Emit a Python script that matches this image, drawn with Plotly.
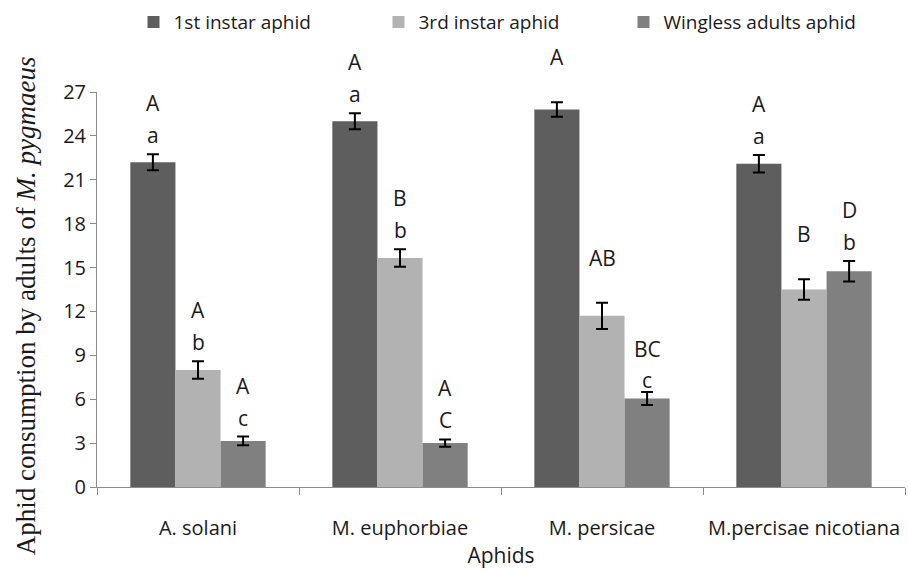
import plotly.graph_objects as go

categories = ["A. solani", "M. euphorbiae", "M. persicae", "M.percisae nicotiana"]
series_names = ["1st instar aphid", "3rd instar aphid", "Wingless adults aphid"]
first_instar = [22.2, 25.0, 25.8, 22.1]
first_instar_err = [0.55, 0.55, 0.5, 0.6]
third_instar = [8.0, 15.65, 11.7, 13.5]
third_instar_err = [0.6, 0.6, 0.9, 0.7]
wingless = [3.15, 3.0, 6.05, 14.75]
wingless_err = [0.3, 0.25, 0.45, 0.7]
upper_labels = [["A", "A", "A", "A"], ["A", "B", "AB", "B"], ["A", "A", "BC", "D"]]
lower_labels = [["a", "a", "", "a"], ["b", "b", "", ""], ["c", "C", "c", "b"]]
y_ticks = [0, 3, 6, 9, 12, 15, 18, 21, 24, 27]

values = [first_instar, third_instar, wingless]
errors = [first_instar_err, third_instar_err, wingless_err]
colors = ["#5e5e5e", "#b2b2b2", "#808080"]

fig = go.Figure()
for name, v, e, c in zip(series_names, values, errors, colors):
    fig.add_trace(go.Bar(
        x=categories, y=v, name=name, marker=dict(color=c, line=dict(width=0)),
        error_y=dict(type="data", array=e, visible=True, color="black", thickness=2, width=6),
    ))

bargap = 0.33
barw = (1 - bargap) / 3
font_lbl = dict(family="Open Sans", size=21, color="#1a1a1a")
annots = []
for si in range(3):
    for ci in range(4):
        xc = ci + (si - 1) * barw
        top = values[si][ci] + errors[si][ci]
        up = upper_labels[si][ci]
        lo = lower_labels[si][ci]
        up_shift = 51 if lo else 45
        if up == "BC":
            up_shift = 43
        lo_shift = 12 if up == "BC" else 19
        if up:
            annots.append(dict(x=xc, y=top, xref="x", yref="y", text=up, showarrow=False,
                               yanchor="middle", yshift=up_shift, font=font_lbl))
        if lo:
            annots.append(dict(x=xc, y=top, xref="x", yref="y", text=lo, showarrow=False,
                               yanchor="middle", yshift=lo_shift, font=font_lbl))

annots.append(dict(x=-0.088, y=0.46, xref="paper", yref="paper", textangle=-90,
                   text="Aphid consumption by adults of <i>M. pygmaeus</i>", showarrow=False,
                   xanchor="center", yanchor="middle",
                   font=dict(family="Liberation Serif", size=27, color="#1a1a1a")))

fig.update_layout(
    width=908, height=570,
    margin=dict(l=97, r=3, t=92, b=83),
    paper_bgcolor="white", plot_bgcolor="white",
    barmode="group", bargap=bargap, bargroupgap=0,
    annotations=annots,
    showlegend=True,
    legend=dict(orientation="h", x=0.5, xanchor="center", y=1.177, yanchor="middle",
                font=dict(family="Open Sans", size=19, color="#1a1a1a"),
                entrywidth=200, entrywidthmode="pixels", traceorder="normal",
                itemwidth=30),
    font=dict(family="Open Sans", color="#1a1a1a"),
)
fig.update_xaxes(
    type="category", range=[-0.5, 3.5], showline=True, linecolor="#8c8c8c", linewidth=1,
    ticks="outside", tickson="boundaries", ticklen=7, tickcolor="#8c8c8c",
    ticklabelstandoff=23,
    showgrid=False, zeroline=False,
    tickfont=dict(family="Open Sans", size=20, color="#1a1a1a"),
    title=dict(text="Aphids", font=dict(family="Open Sans", size=21, color="#1a1a1a"), standoff=7),
)
fig.update_yaxes(
    range=[0, 27], tickvals=y_ticks, showline=True, linecolor="#8c8c8c", linewidth=1,
    ticks="outside", ticklen=6, tickcolor="#8c8c8c", showgrid=False, zeroline=False,
    tickfont=dict(family="Open Sans", size=20, color="#1a1a1a"),
)

fig.write_html("out.html")
